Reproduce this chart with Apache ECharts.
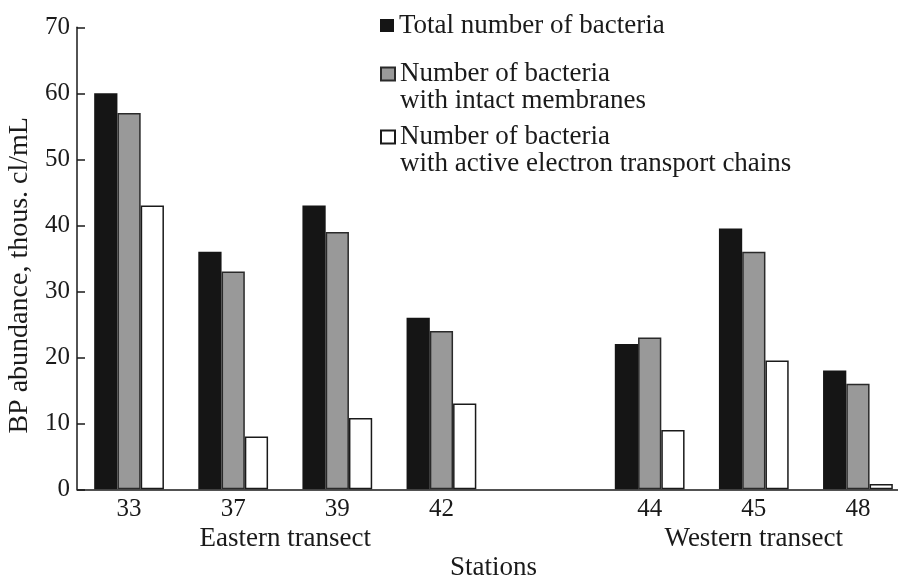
<!DOCTYPE html>
<html>
<head>
<meta charset="utf-8">
<style>
  html, body { margin: 0; padding: 0; background: #fff; }
  #chart { width: 898px; height: 576px; }
</style>
<script src="https://cdn.jsdelivr.net/npm/echarts@6/dist/echarts.min.js"></script>
</head>
<body>
<div id="chart"></div>
<script>
// Stations along the two transects (blank slot separates the groups)
const stations = ['33', '37', '39', '42', '', '44', '45', '48'];
const eastern = ['33', '37', '39', '42'];
const western = ['44', '45', '48'];

// Bacterial abundance, thous. cells/mL
const totalBacteria = [60, 36, 43, 26, null, 22, 39.5, 18];
const intactMembranes = [57, 33, 39, 24, null, 23, 36, 16];
const activeETC = [43, 8, 10.8, 13, null, 9, 19.5, 0.8];

const yTicks = { min: 0, max: 70, step: 10 };

const seriesNames = [
  'Total number of bacteria',
  'Number of bacteria\nwith intact membranes',
  'Number of bacteria\nwith active electron transport chains'
];

const FONT = '"Liberation Serif", "Times New Roman", serif';
const INK = '#1a1a1a';

const chart = echarts.init(document.getElementById('chart'), null, { renderer: 'canvas' });

// One legend block per series; two-line names get a leading blank line so
// the first line sits level with the swatch.
function legendBlock(name, top, multiline) {
  return {
    data: [name],
    left: 380,
    top: top,
    padding: 0,
    orient: 'vertical',
    icon: 'rect',
    itemWidth: 14,
    itemHeight: 13,
    itemGap: 0,
    selectedMode: false,
    formatter: multiline ? (n) => '\n' + n : (n) => n,
    textStyle: {
      fontFamily: FONT,
      fontSize: 27,
      lineHeight: 27,
      color: INK
    }
  };
}

const option = {
  animation: false,
  backgroundColor: '#fff',
  textStyle: { fontFamily: FONT },
  grid: {
    left: 77,
    right: -12,
    top: 27.3,
    bottom: 86.7,
    containLabel: false,
    outerBoundsMode: 'none'
  },
  legend: [
    legendBlock(seriesNames[0], 12, false),
    legendBlock(seriesNames[1], 33.5, true),
    legendBlock(seriesNames[2], 96.5, true)
  ],
  xAxis: {
    type: 'category',
    data: stations,
    name: 'Stations',
    nameLocation: 'middle',
    nameGap: 65,
    nameTextStyle: { fontFamily: FONT, fontSize: 27, color: INK },
    axisLine: { lineStyle: { color: INK, width: 1.5 } },
    axisTick: { inside: true, length: 8, interval: 0, lineStyle: { color: INK, width: 1.5 } },
    axisLabel: { fontFamily: FONT, fontSize: 25, color: INK, margin: 8, interval: 0 },
    splitLine: { show: false }
  },
  yAxis: {
    type: 'value',
    min: yTicks.min,
    max: yTicks.max,
    interval: yTicks.step,
    name: 'BP abundance, thous. cl/mL',
    nameLocation: 'middle',
    nameGap: 41,
    nameTextStyle: { fontFamily: FONT, fontSize: 28, color: INK, padding: [0, 34, 0, 0] },
    axisLine: { show: true, lineStyle: { color: INK, width: 1.5 } },
    axisTick: { show: true, inside: true, length: 8, lineStyle: { color: INK, width: 1.5 } },
    axisLabel: { fontFamily: FONT, fontSize: 25, color: INK, margin: 7 },
    splitLine: { show: false }
  },
  series: [
    {
      name: seriesNames[0],
      type: 'bar',
      data: totalBacteria,
      barGap: '0%',
      barCategoryGap: '33%',
      itemStyle: { color: '#151515', borderColor: '#151515', borderWidth: 0 }
    },
    {
      name: seriesNames[1],
      type: 'bar',
      data: intactMembranes,
      barGap: '0%',
      barCategoryGap: '33%',
      itemStyle: { color: '#999999', borderColor: '#2a2a2a', borderWidth: 1.5 }
    },
    {
      name: seriesNames[2],
      type: 'bar',
      data: activeETC,
      barGap: '0%',
      barCategoryGap: '33%',
      itemStyle: { color: '#ffffff', borderColor: '#1a1a1a', borderWidth: 1.5 }
    }
  ]
};

chart.setOption(option);

// Transect group captions centred under their stations
function groupCentre(group) {
  const a = chart.convertToPixel({ xAxisIndex: 0 }, group[0]);
  const b = chart.convertToPixel({ xAxisIndex: 0 }, group[group.length - 1]);
  return (a + b) / 2;
}
const captionY = chart.convertToPixel({ yAxisIndex: 0 }, 0) + 50;

chart.setOption({
  graphic: [
    {
      type: 'text',
      x: groupCentre(eastern),
      y: captionY,
      style: {
        text: 'Eastern transect',
        fontFamily: FONT,
        fontSize: 27,
        fill: INK,
        align: 'center',
        verticalAlign: 'middle'
      }
    },
    {
      type: 'text',
      x: groupCentre(western),
      y: captionY,
      style: {
        text: 'Western transect',
        fontFamily: FONT,
        fontSize: 27,
        fill: INK,
        align: 'center',
        verticalAlign: 'middle'
      }
    }
  ]
});
</script>
</body>
</html>
